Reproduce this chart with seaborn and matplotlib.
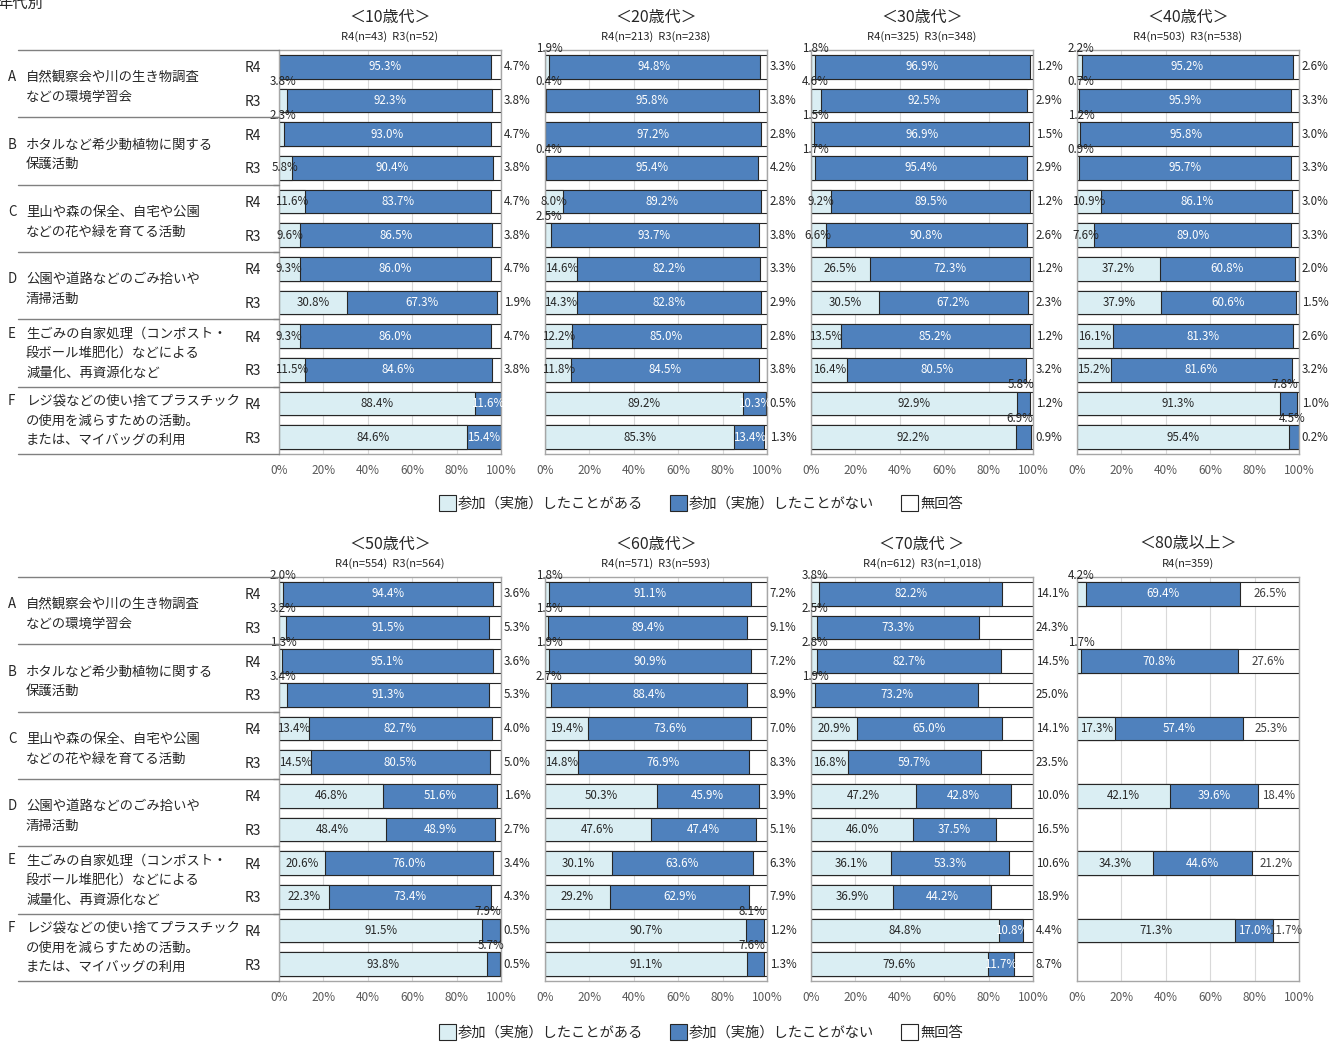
import matplotlib
matplotlib.use("Agg")
import matplotlib.pyplot as plt
import matplotlib.transforms as mtransforms
from matplotlib.patches import Patch
from matplotlib.lines import Line2D
import numpy as np
import pandas as pd
import seaborn as sns

nan = np.nan

# Items and rows
letters = ["A", "B", "C", "D", "E", "F"]
item_texts = [
	"自然観察会や川の生き物調査\nなどの環境学習会",
	"ホタルなど希少動植物に関する\n保護活動",
	"里山や森の保全、自宅や公園\nなどの花や緑を育てる活動",
	"公園や道路などのごみ拾いや\n清掃活動",
	"生ごみの自家処理（コンポスト・\n段ボール堆肥化）などによる\n減量化、再資源化など",
	"レジ袋などの使い捨てプラスチック\nの使用を減らすための活動。\nまたは、マイバッグの利用",
]
years = ["R4", "R3"]
legend_labels = ["参加（実施）したことがある", "参加（実施）したことがない", "無回答"]

age_titles = ["＜10歳代＞", "＜20歳代＞", "＜30歳代＞", "＜40歳代＞",
	"＜50歳代＞", "＜60歳代＞", "＜70歳代 ＞", "＜80歳以上＞"]
age_subtitles = ["R4(n=43)  R3(n=52)", "R4(n=213)  R3(n=238)", "R4(n=325)  R3(n=348)", "R4(n=503)  R3(n=538)",
	"R4(n=554)  R3(n=564)", "R4(n=571)  R3(n=593)", "R4(n=612)  R3(n=1,018)", "R4(n=359)"]

# Values per age group, order: A R4, A R3, B R4, B R3, ... F R4, F R3
light_10 = [0.0, 3.8, 2.3, 5.8, 11.6, 9.6, 9.3, 30.8, 9.3, 11.5, 88.4, 84.6]
blue_10 = [95.3, 92.3, 93.0, 90.4, 83.7, 86.5, 86.0, 67.3, 86.0, 84.6, 11.6, 15.4]
none_10 = [4.7, 3.8, 4.7, 3.8, 4.7, 3.8, 4.7, 1.9, 4.7, 3.8, 0.0, 0.0]

light_20 = [1.9, 0.4, 0.0, 0.4, 8.0, 2.5, 14.6, 14.3, 12.2, 11.8, 89.2, 85.3]
blue_20 = [94.8, 95.8, 97.2, 95.4, 89.2, 93.7, 82.2, 82.8, 85.0, 84.5, 10.3, 13.4]
none_20 = [3.3, 3.8, 2.8, 4.2, 2.8, 3.8, 3.3, 2.9, 2.8, 3.8, 0.5, 1.3]

light_30 = [1.8, 4.6, 1.5, 1.7, 9.2, 6.6, 26.5, 30.5, 13.5, 16.4, 92.9, 92.2]
blue_30 = [96.9, 92.5, 96.9, 95.4, 89.5, 90.8, 72.3, 67.2, 85.2, 80.5, 5.8, 6.9]
none_30 = [1.2, 2.9, 1.5, 2.9, 1.2, 2.6, 1.2, 2.3, 1.2, 3.2, 1.2, 0.9]

light_40 = [2.2, 0.7, 1.2, 0.9, 10.9, 7.6, 37.2, 37.9, 16.1, 15.2, 91.3, 95.4]
blue_40 = [95.2, 95.9, 95.8, 95.7, 86.1, 89.0, 60.8, 60.6, 81.3, 81.6, 7.8, 4.5]
none_40 = [2.6, 3.3, 3.0, 3.3, 3.0, 3.3, 2.0, 1.5, 2.6, 3.2, 1.0, 0.2]

light_50 = [2.0, 3.2, 1.3, 3.4, 13.4, 14.5, 46.8, 48.4, 20.6, 22.3, 91.5, 93.8]
blue_50 = [94.4, 91.5, 95.1, 91.3, 82.7, 80.5, 51.6, 48.9, 76.0, 73.4, 7.9, 5.7]
none_50 = [3.6, 5.3, 3.6, 5.3, 4.0, 5.0, 1.6, 2.7, 3.4, 4.3, 0.5, 0.5]

light_60 = [1.8, 1.5, 1.9, 2.7, 19.4, 14.8, 50.3, 47.6, 30.1, 29.2, 90.7, 91.1]
blue_60 = [91.1, 89.4, 90.9, 88.4, 73.6, 76.9, 45.9, 47.4, 63.6, 62.9, 8.1, 7.6]
none_60 = [7.2, 9.1, 7.2, 8.9, 7.0, 8.3, 3.9, 5.1, 6.3, 7.9, 1.2, 1.3]

light_70 = [3.8, 2.5, 2.8, 1.9, 20.9, 16.8, 47.2, 46.0, 36.1, 36.9, 84.8, 79.6]
blue_70 = [82.2, 73.3, 82.7, 73.2, 65.0, 59.7, 42.8, 37.5, 53.3, 44.2, 10.8, 11.7]
none_70 = [14.1, 24.3, 14.5, 25.0, 14.1, 23.5, 10.0, 16.5, 10.6, 18.9, 4.4, 8.7]

light_80 = [4.2, nan, 1.7, nan, 17.3, nan, 42.1, nan, 34.3, nan, 71.3, nan]
blue_80 = [69.4, nan, 70.8, nan, 57.4, nan, 39.6, nan, 44.6, nan, 17.0, nan]
none_80 = [26.5, nan, 27.6, nan, 25.3, nan, 18.4, nan, 21.2, nan, 11.7, nan]

lights = [light_10, light_20, light_30, light_40, light_50, light_60, light_70, light_80]
blues = [blue_10, blue_20, blue_30, blue_40, blue_50, blue_60, blue_70, blue_80]
nones = [none_10, none_20, none_30, none_40, none_50, none_60, none_70, none_80]

# Colours
c_light = "#DAEEF3"
c_blue = "#4F81BD"
c_none = "#FFFFFF"
c_edge = "#262626"
c_text = "#262626"

row_keys = ["%s %s" % (l, y) for l in letters for y in years]

sns.set_theme(style = "white")
plt.rcParams["font.family"] = ["Noto Sans CJK JP", "DejaVu Sans"]

W, H = 1340, 1043
fig = plt.figure(figsize = (W / 100, H / 100), dpi = 100)

lefts = [279, 545, 811, 1077]
width = 222
tops = [50, 577]
height = 404

axes = []
for k in range(8):
	row = k // 4
	col = k % 4
	ax = fig.add_axes([lefts[col] / W, 1 - (tops[row] + height) / H, width / W, height / H])
	axes.append(ax)

label_fs = 8.3
item_fs = 9.6

for k, ax in enumerate(axes):
	df = pd.DataFrame({ "row": row_keys, "light": lights[k], "blue": blues[k], "none": nones[k] }).dropna()
	df["cum_blue"] = df["light"] + df["blue"]
	df["total"] = df["cum_blue"] + df["none"]

	bar_kw = dict(data = df, y = "row", order = row_keys, orient = "h", width = 0.7, saturation = 1,
		edgecolor = c_edge, linewidth = 0.8, errorbar = None, ax = ax)
	sns.barplot(x = "total", color = c_none, **bar_kw)
	sns.barplot(x = "cum_blue", color = c_blue, **bar_kw)
	sns.barplot(x = "light", color = c_light, **bar_kw)

	ax.set_xlim(0, 100)
	ax.set_ylim(11.5, -0.5)
	ax.set_xticks([0, 20, 40, 60, 80, 100])
	ax.set_xticklabels(["0%", "20%", "40%", "60%", "80%", "100%"], fontsize = 8.5, color = "#595959")
	ax.tick_params(axis = "x", length = 0, pad = 7)
	ax.set_xlabel("")
	ax.set_ylabel("")
	ax.xaxis.grid(True, color = "#d9d9d9", linewidth = 0.8)
	ax.set_axisbelow(True)
	for s in ax.spines.values():
		s.set_color("#a6a6a6")
		s.set_linewidth(1.0)

	if k % 4 == 0:
		ax.set_yticks(range(12))
		ax.set_yticklabels(years * 6, fontsize = 10, color = c_text)
		ax.tick_params(axis = "y", length = 0, pad = 13)
		ax.set_yticks([1.5, 3.5, 5.5, 7.5, 9.5], minor = True)
		ax.tick_params(axis = "y", which = "minor", length = 4, color = "#a6a6a6", left = True)
	else:
		ax.set_yticks(range(12))
		ax.tick_params(axis = "y", length = 0, labelleft = False)

	# Titles
	ax.text(0.5, 1 + 33 / height, age_titles[k], transform = ax.transAxes, ha = "center", va = "center",
		fontsize = 11.5, color = c_text)
	ax.text(0.5, 1 + 13 / height, age_subtitles[k], transform = ax.transAxes, ha = "center", va = "center",
		fontsize = 8, color = c_text)

	# Value labels
	right_trans = mtransforms.blended_transform_factory(ax.transAxes, ax.transData)
	inside_none = (k == 7)
	for _, r in df.iterrows():
		i = row_keys.index(r["row"])
		li, bl, no = r["light"], r["blue"], r["none"]
		if li > 0:
			if li < 5:
				ax.text(1.8, i - 0.55, "%.1f%%" % li, ha = "center", va = "center", fontsize = label_fs, color = c_text)
			else:
				ax.text(li / 2, i, "%.1f%%" % li, ha = "center", va = "center", fontsize = label_fs, color = c_text)
		if bl > 0:
			if bl < 9:
				ax.text(li + bl * 0.3, i - 0.55, "%.1f%%" % bl, ha = "center", va = "center", fontsize = label_fs, color = c_text)
			else:
				ax.text(li + bl / 2, i, "%.1f%%" % bl, ha = "center", va = "center", fontsize = label_fs, color = "white")
		if no > 0:
			if inside_none:
				ax.text(li + bl + no / 2, i, "%.1f%%" % no, ha = "center", va = "center", fontsize = label_fs, color = "#404040")
			else:
				ax.text(1.012, i, "%.1f%%" % no, transform = right_trans, ha = "left", va = "center",
					fontsize = label_fs, color = c_text)

	# Item labels and separators on the left
	if k % 4 == 0:
		trans = mtransforms.blended_transform_factory(fig.transFigure, ax.transData)
		for j, (letter, txt) in enumerate(zip(letters, item_texts)):
			n_lines = txt.count("\n") + 1
			y = 2 * j + 0.5 + (0.1 if n_lines == 2 else 0.0)
			ax.text(8 / W, y, letter + "\n" * (n_lines - 1), transform = trans, ha = "left", va = "center",
				fontsize = item_fs, color = c_text, linespacing = 1.5)
			ax.text(26 / W, y, txt, transform = trans, ha = "left", va = "center",
				fontsize = item_fs, color = c_text, linespacing = 1.5)
		for yb in [-0.5, 1.5, 3.5, 5.5, 7.5, 9.5, 11.5]:
			fig.add_artist(Line2D([18 / W, lefts[0] / W], [yb, yb], transform = trans, color = "#808080", linewidth = 1.0))

# Legends
handles = [Patch(facecolor = c_light, edgecolor = c_edge, linewidth = 0.8),
	Patch(facecolor = c_blue, edgecolor = c_edge, linewidth = 0.8),
	Patch(facecolor = c_none, edgecolor = c_edge, linewidth = 0.8)]
for yl in [503, 1032]:
	fig.legend(handles, legend_labels, loc = "center", bbox_to_anchor = (701 / W, 1 - yl / H), ncol = 3,
		frameon = False, fontsize = 10.3, handlelength = 1.15, handleheight = 1.35, handletextpad = 0.15,
		columnspacing = 1.9, labelcolor = c_text)

fig.text(-3 / W, 1 - 3 / H, "年代別", ha = "left", va = "center", fontsize = 11, color = c_text)

plt.savefig("out.png", dpi = 100)
plt.close()
